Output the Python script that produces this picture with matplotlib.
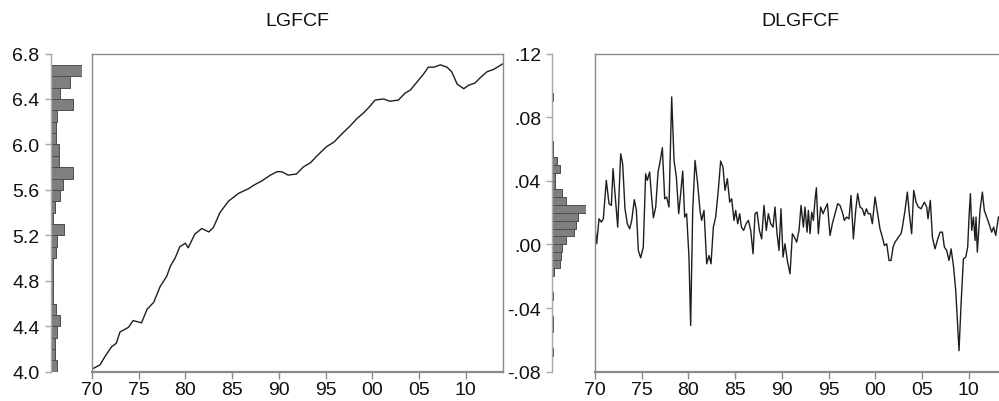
import matplotlib
matplotlib.use('Agg')
import matplotlib.pyplot as plt
from matplotlib.ticker import FixedLocator, FixedFormatter, NullLocator

plt.rcParams['font.family'] = ['Liberation Sans', 'DejaVu Sans']

# ---------------- data ----------------
titles = ['LGFCF', 'DLGFCF']

x_tick_years = [1970, 1975, 1980, 1985, 1990, 1995, 2000, 2005, 2010]
x_tick_labels = ['70', '75', '80', '85', '90', '95', '00', '05', '10']

lg_tick_values = [4.0, 4.4, 4.8, 5.2, 5.6, 6.0, 6.4, 6.8]
lg_tick_labels = ['4.0', '4.4', '4.8', '5.2', '5.6', '6.0', '6.4', '6.8']

dl_tick_values = [-0.08, -0.04, 0.0, 0.04, 0.08, 0.12]
dl_tick_labels = ['-.08', '-.04', '.00', '.04', '.08', '.12']

# LGFCF series (year, value)
lg_years = [1970.0, 1970.86, 1971.4, 1972.1, 1972.6, 1973.0, 1973.9, 1974.4, 1975.3,
            1975.9, 1976.6, 1977.3, 1978.0, 1978.4, 1978.9, 1979.4, 1980.0, 1980.3,
            1981.0, 1981.75, 1982.5, 1983.0, 1983.7, 1984.6, 1985.7, 1986.75, 1987.3,
            1988.2, 1989.1, 1989.8, 1990.3, 1991.0, 1991.9, 1992.6, 1993.4, 1994.1,
            1995.1, 1995.9, 1996.6, 1997.6, 1998.4, 1999.1, 1999.8, 2000.3, 2001.2,
            2001.9, 2002.8, 2003.5, 2004.1, 2004.8, 2005.5, 2006.0, 2006.6, 2007.3,
            2008.0, 2008.5, 2009.1, 2009.8, 2010.3, 2011.0, 2011.6, 2012.3, 2013.0,
            2014.0]
lg_values = [4.023, 4.06, 4.135, 4.22, 4.25, 4.35, 4.39, 4.45, 4.43,
             4.55, 4.61, 4.75, 4.84, 4.93, 5.00, 5.10, 5.13, 5.09,
             5.21, 5.26, 5.23, 5.27, 5.40, 5.50, 5.57, 5.61, 5.64,
             5.68, 5.73, 5.76, 5.76, 5.73, 5.74, 5.80, 5.84, 5.90,
             5.98, 6.02, 6.08, 6.16, 6.23, 6.28, 6.34, 6.39, 6.40,
             6.38, 6.39, 6.45, 6.48, 6.55, 6.62, 6.68, 6.68, 6.70,
             6.68, 6.64, 6.53, 6.49, 6.52, 6.54, 6.59, 6.64, 6.66,
             6.71]

# LGFCF histogram (bins of 0.1 from 4.0 to 6.7), counts bottom to top
lg_bin_lower = [4.0, 4.1, 4.2, 4.3, 4.4, 4.5, 4.6, 4.7, 4.8, 4.9, 5.0, 5.1, 5.2, 5.3,
                5.4, 5.5, 5.6, 5.7, 5.8, 5.9, 6.0, 6.1, 6.2, 6.3, 6.4, 6.5, 6.6]
lg_counts = [5, 3, 3, 5, 7, 4, 2, 2, 2, 2, 4, 5, 10, 2,
             3, 7, 9, 16, 6, 6, 4, 4, 5, 16, 7, 14, 23]

# DLGFCF series (year, value)
dl_years = [1970.0, 1970.18, 1970.43, 1970.68, 1970.89, 1971.21, 1971.50, 1971.75, 1971.93,
            1972.14, 1972.43, 1972.75, 1972.96, 1973.21, 1973.46, 1973.71, 1973.93, 1974.21,
            1974.43, 1974.64, 1974.89, 1975.17, 1975.42, 1975.60, 1975.85, 1976.03, 1976.25,
            1976.50, 1976.75, 1976.96, 1977.21, 1977.46, 1977.67, 1977.92, 1978.21, 1978.46,
            1978.71, 1978.96, 1979.17, 1979.39, 1979.60, 1979.81, 1980.06, 1980.24, 1980.46,
            1980.71, 1980.99, 1981.24, 1981.42, 1981.67, 1981.96, 1982.21, 1982.42, 1982.67,
            1982.92, 1983.20, 1983.45, 1983.70, 1983.92, 1984.17, 1984.42, 1984.63, 1984.88,
            1985.06, 1985.28, 1985.49, 1985.67, 1985.92, 1986.17, 1986.42, 1986.67, 1986.92,
            1987.13, 1987.35, 1987.60, 1987.84, 1988.09, 1988.34, 1988.56, 1988.81, 1989.06,
            1989.27, 1989.49, 1989.70, 1989.91, 1990.13, 1990.34, 1990.59, 1990.88, 1991.13,
            1991.34, 1991.59, 1991.84, 1992.06, 1992.31, 1992.48, 1992.70, 1992.84, 1993.02,
            1993.20, 1993.38, 1993.55, 1993.70, 1993.91, 1994.16, 1994.41, 1994.63, 1994.88,
            1995.16, 1995.41, 1995.70, 1995.98, 1996.23, 1996.48, 1996.70, 1996.94, 1997.19,
            1997.41, 1997.66, 1997.91, 1998.12, 1998.37, 1998.62, 1998.84, 1999.05, 1999.26,
            1999.48, 1999.69, 1999.98, 2000.26, 2000.51, 2000.76, 2000.98, 2001.23, 2001.48,
            2001.69, 2001.91, 2002.12, 2002.48, 2002.76, 2002.91, 2003.19, 2003.44, 2003.65,
            2003.90, 2004.12, 2004.37, 2004.62, 2004.90, 2005.26, 2005.51, 2005.65, 2005.90,
            2006.12, 2006.40, 2006.65, 2006.94, 2007.19, 2007.40, 2007.65, 2007.90, 2008.12,
            2008.37, 2008.62, 2008.83, 2008.97, 2009.19, 2009.44, 2009.69, 2009.90, 2010.04,
            2010.19, 2010.33, 2010.51, 2010.69, 2010.79, 2010.93, 2011.22, 2011.47, 2011.68,
            2011.93, 2012.18, 2012.47, 2012.68, 2012.90, 2013.19]
dl_values = [0.0109, 0.0004, 0.0161, 0.0140, 0.0161, 0.0403, 0.0256, 0.0245, 0.0476,
             0.0319, 0.0109, 0.0570, 0.0507, 0.0224, 0.0130, 0.0098, 0.0151, 0.0281,
             0.0214, -0.0038, -0.0084, -0.0017, 0.0444, 0.0403, 0.0455, 0.0319, 0.0167,
             0.0235, 0.0455, 0.0518, 0.0608, 0.0287, 0.0298, 0.0235, 0.0927, 0.0528,
             0.0424, 0.0193, 0.0319, 0.0461, 0.0172, 0.0193, -0.0080, -0.0510, 0.0214,
             0.0528, 0.0381, 0.0214, 0.0151, 0.0214, -0.0122, -0.0070, -0.0122, 0.0109,
             0.0172, 0.0340, 0.0524, 0.0487, 0.0340, 0.0413, 0.0266, 0.0287, 0.0151,
             0.0214, 0.0130, 0.0193, 0.0109, 0.0088, 0.0130, 0.0151, 0.0088, -0.0059,
             0.0193, 0.0203, 0.0088, 0.0035, 0.0245, 0.0088, 0.0193, 0.0130, 0.0109,
             0.0235, 0.0067, -0.0038, 0.0224, -0.0080, 0.0004, -0.0101, -0.0185, 0.0067,
             0.0046, 0.0014, 0.0088, 0.0245, 0.0109, 0.0235, 0.0077, 0.0214, 0.0067,
             0.0203, 0.0151, 0.0277, 0.0356, 0.0067, 0.0235, 0.0193, 0.0224, 0.0256,
             0.0056, 0.0130, 0.0193, 0.0256, 0.0245, 0.0203, 0.0151, 0.0172, 0.0161,
             0.0308, 0.0035, 0.0214, 0.0319, 0.0235, 0.0224, 0.0182, 0.0224, 0.0193,
             0.0193, 0.0130, 0.0298, 0.0193, 0.0098, 0.0046, -0.0007, 0.0004, -0.0101,
             -0.0101, -0.0017, 0.0014, 0.0046, 0.0067, 0.0109, 0.0214, 0.0329, 0.0193,
             0.0067, 0.0340, 0.0266, 0.0235, 0.0224, 0.0266, 0.0235, 0.0161, 0.0277,
             0.0046, -0.0028, 0.0025, 0.0077, 0.0077, -0.0017, -0.0038, -0.0101, -0.0028,
             -0.0133, -0.0290, -0.0521, -0.0668, -0.0374, -0.0091, -0.0080, -0.0017, 0.0172,
             0.0319, 0.0088, 0.0172, 0.0025, 0.0172, -0.0049, 0.0214, 0.0329, 0.0214,
             0.0172, 0.0130, 0.0077, 0.0109, 0.0056, 0.0172]

# DLGFCF histogram (bins of 0.005), counts
dl_bin_lower = [-0.070, -0.055, -0.050, -0.035, -0.020, -0.015, -0.010, -0.005, 0.000,
                0.005, 0.010, 0.015, 0.020, 0.025, 0.030, 0.035, 0.040, 0.045,
                0.050, 0.055, 0.060, 0.090]
dl_counts = [1, 1, 1, 1, 2, 7, 8, 9, 12,
             19, 21, 22, 29, 12, 9, 3, 3, 7,
             4, 1, 1, 1]

# ---------------- layout ----------------
W, H = 999, 402
fig = plt.figure(figsize=(W / 100, H / 100), dpi=100)
fig.patch.set_facecolor('white')


def ax_px(l, t, r, b):
    return fig.add_axes([l / W, 1 - b / H, (r - l) / W, (b - t) / H])


TOP, BOT = 54.5, 372.7
FS = 14
box_col = '#8a8a8a'
hist_spine = '#a8a8a8'
bar_face = '#7f7f7f'
bar_edge = '#4d4d4d'
line_col = '#1e1e1e'


def style_hist(ax, ticks, labels, ylim, xmax):
    ax.set_ylim(*ylim)
    ax.set_xlim(0, xmax)
    for s in ['top', 'right', 'bottom']:
        ax.spines[s].set_visible(False)
    ax.spines['left'].set_color(hist_spine)
    ax.spines['left'].set_linewidth(1.0)
    ax.xaxis.set_major_locator(NullLocator())
    ax.yaxis.set_major_locator(FixedLocator(ticks))
    ax.yaxis.set_major_formatter(FixedFormatter(labels))
    ax.tick_params(axis='y', direction='out', length=4, width=1.0,
                   color=hist_spine, labelsize=FS, pad=4, labelcolor='#111111')
    ax.patch.set_alpha(0)


def style_line(ax, ylim):
    ax.set_xlim(1970, 2014)
    ax.set_ylim(*ylim)
    for s in ax.spines.values():
        s.set_color(box_col)
        s.set_linewidth(1.0)
    ax.spines['bottom'].set_linewidth(1.6)
    ax.yaxis.set_major_locator(NullLocator())
    ax.xaxis.set_major_locator(FixedLocator(x_tick_years))
    ax.xaxis.set_major_formatter(FixedFormatter(x_tick_labels))
    ax.tick_params(axis='x', direction='out', length=5, width=1.0,
                   color=box_col, labelsize=FS, pad=2, labelcolor='#111111')


# Left panel
h1 = ax_px(50.5, TOP, 82.3, BOT)
h1.barh(lg_bin_lower, lg_counts, height=0.1, align='edge',
        color=bar_face, edgecolor=bar_edge, linewidth=0.7)
style_hist(h1, lg_tick_values, lg_tick_labels, (4.0, 6.8), max(lg_counts))

a1 = ax_px(92, TOP, 503, BOT)
a1.plot(lg_years, lg_values, color=line_col, linewidth=1.0)
style_line(a1, (4.0, 6.8))

# Right panel
h2 = ax_px(552, TOP, 585.7, BOT)
h2.barh(dl_bin_lower, dl_counts, height=0.005, align='edge',
        color=bar_face, edgecolor=bar_edge, linewidth=0.7)
style_hist(h2, dl_tick_values, dl_tick_labels, (-0.08, 0.12), max(dl_counts))

a2 = ax_px(595, TOP, 1006, BOT)
a2.plot(dl_years, dl_values, color=line_col, linewidth=1.0)
style_line(a2, (-0.08, 0.12))

fig.text((92 + 503) / 2 / W, 1 - 21 / H, titles[0], ha='center', va='center',
         fontsize=FS, color='#111111')
fig.text((595 + 1006) / 2 / W, 1 - 21 / H, titles[1], ha='center', va='center',
         fontsize=FS, color='#111111')

fig.savefig('out.png', dpi=100, facecolor='white')
